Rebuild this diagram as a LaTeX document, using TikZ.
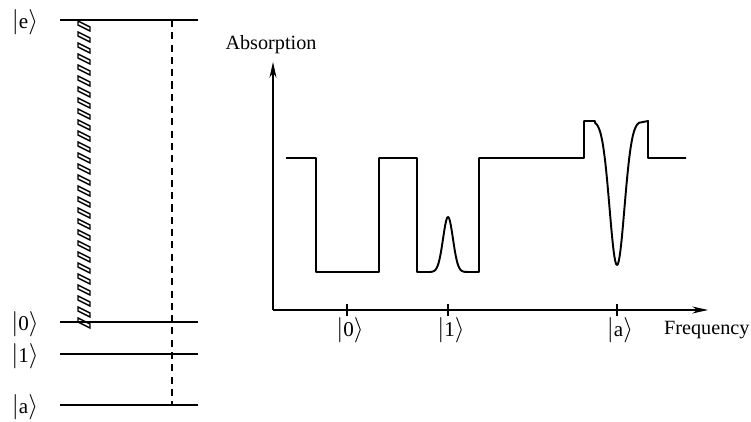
\documentclass[tikz,border=0pt]{standalone}
\usepackage{fontspec}
\setmainfont{Liberation Serif}
\usetikzlibrary{arrows.meta}

\newcommand{\ketsym}[1]{$|${\fontsize{12}{14}\selectfont #1}$\rangle$}

\begin{document}
\begin{tikzpicture}[
  x=0.02cm, y=-0.02cm,
  font=\fontsize{11.5}{14}\selectfont,
  level/.style={line width=0.7pt},
  ketlabel/.style={inner sep=0pt, font=\fontsize{15}{18}\selectfont},
  axis/.style={line width=0.7pt, -{Stealth[length=9pt, width=4pt]}},
  tick/.style={line width=0.7pt},
  curve/.style={line width=1.1pt, line join=round},
  transition/.style={line width=0.7pt, dash pattern=on 4pt off 3pt},
  rope/.style={line width=0.8pt},
]

\useasboundingbox (0,0) rectangle (751,422);

\def\lvlx{60}
\def\lvlxend{198}
\def\ropex{78}
\def\ropew{12}

% Energy levels.
\foreach \name/\lbl/\y in {e/e/20, 0/0/322, 1/1/354, a/a/405} {
  \coordinate (lv\name-w) at (\lvlx,\y);
  \coordinate (lv\name-e) at (\lvlxend,\y);
  \draw[level] (lv\name-w) -- (lv\name-e);
  \node[ketlabel] (ket\name) at (25,\y+2) {\ketsym{\lbl}};
}

% Broad pump (hatched column).
\foreach \k in {0,...,27} {
  \pgfmathsetmacro{\yy}{21+\k*11}
  \draw[rope] (\ropex,\yy) -- (\ropex,\yy+4) -- (\ropex+\ropew,\yy+10) -- (\ropex+\ropew,\yy+6) -- cycle;
}

% Transition from |a> to |e>.
\coordinate (trtop) at (172,20);
\coordinate (trbot) at (172,405);
\draw[transition] (trtop) -- (trbot);

% Axes.
\coordinate (origin) at (273,310);
\coordinate (ytop) at (273,62);
\coordinate (xend) at (708,310);
\draw[axis] (origin) -- (ytop);
\draw[axis] (origin) -- (xend);
\node (ylabel) at (271,45) {Absorption};
\node[anchor=west] (xlabel) at (658,330) {Frequency};

% Ticks and their labels.
\foreach \name/\lbl/\x in {0/0/347, 1/1/448, a/a/617} {
  \draw[tick] (\x,304) -- (\x,316);
  \node[ketlabel] (tk\name) at (\x+3,330) {\ketsym{\lbl}};
}

% Absorption spectrum.
\draw[curve] (286,158) -| (316,272) -| (379,158) -| (417,272) -- (430,272)
  -- plot[domain=430:467, samples=40] (\x, {272-55*exp(-((\x-448)/7)^2)})
  -- (479,272) -- (479,158) -| (584,121) -- (595,121)
  -- plot[domain=595:639, samples=60] (\x, {121+144*exp(-((\x-617)/10.5)^2)})
  -- (648,121) -- (648,158) -- (686,158);

\end{tikzpicture}
\end{document}
